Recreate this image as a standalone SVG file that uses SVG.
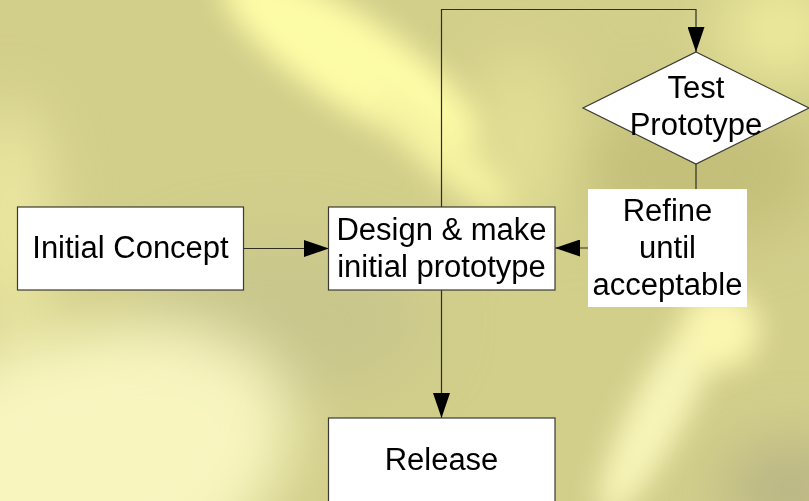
<svg xmlns="http://www.w3.org/2000/svg" width="809" height="501" viewBox="0 0 809 501">
  <style>
    .box { fill: #ffffff; stroke: #3a3a33; stroke-width: 1.2; }
    .plain { fill: #ffffff; stroke: none; }
    .lbl { font-family: "Liberation Sans", Arial, sans-serif; font-size: 31px; fill: #000000; text-anchor: middle; }
    .wire { fill: none; stroke: #2e2e24; stroke-width: 1.2; }
  </style>
  <defs>
    <marker id="arrow" markerUnits="userSpaceOnUse" markerWidth="25" markerHeight="17" refX="25" refY="8.5" orient="auto">
      <path d="M0,0 L25,8.5 L0,17 Z" fill="#000000"/>
    </marker>
    <filter id="soft" x="-50%" y="-50%" width="200%" height="200%">
      <feGaussianBlur stdDeviation="30"/>
    </filter>
    <filter id="softer" x="-50%" y="-50%" width="200%" height="200%">
      <feGaussianBlur stdDeviation="14"/>
    </filter>
  </defs>

  <!-- textured yellow backdrop -->
  <g id="backdrop">
    <rect x="0" y="0" width="809" height="501" fill="#d2cf8b"/>
    <g filter="url(#soft)">
      <ellipse cx="280" cy="320" rx="150" ry="80" fill="#c9c68c"/>
      <ellipse cx="700" cy="170" rx="120" ry="70" fill="#c3bf79"/>
      <ellipse cx="790" cy="490" rx="70" ry="50" fill="#bab585"/>
      <ellipse cx="60" cy="480" rx="240" ry="140" fill="#f8f5bf" transform="rotate(-20 60 480)"/>
      <ellipse cx="10" cy="220" rx="40" ry="120" fill="#ece8a3"/>
      <ellipse cx="780" cy="30" rx="60" ry="50" fill="#eeeb9c"/>
      <ellipse cx="520" cy="140" rx="50" ry="90" fill="#e2de94"/>
    </g>
    <g filter="url(#softer)">
      <ellipse cx="350" cy="60" rx="150" ry="45" fill="#fdfca6" transform="rotate(33 350 60)"/>
      <ellipse cx="440" cy="150" rx="90" ry="22" fill="#f6f3a2" transform="rotate(40 440 150)"/>
      <ellipse cx="660" cy="410" rx="28" ry="120" fill="#f7f4b8" transform="rotate(28 660 410)"/>
      <ellipse cx="720" cy="330" rx="40" ry="40" fill="#faf6b0"/>
    </g>
  </g>

  <g id="connectors">
    <line class="wire" x1="243" y1="248.5" x2="329" y2="248.5" marker-end="url(#arrow)"/>
    <line class="wire" x1="441.5" y1="290" x2="441.5" y2="418" marker-end="url(#arrow)"/>
    <path class="wire" d="M441.5,207 V9.5 H696 V52" marker-end="url(#arrow)"/>
    <line class="wire" x1="696" y1="164" x2="696" y2="189"/>
    <line class="wire" x1="588" y1="248" x2="555" y2="248" marker-end="url(#arrow)"/>
  </g>

  <g id="initial-concept">
    <rect class="box" x="17.5" y="207" width="226" height="83"/>
    <text class="lbl" x="130.5" y="258">Initial Concept</text>
  </g>

  <g id="design-prototype">
    <rect class="box" x="328.5" y="207" width="226.5" height="83"/>
    <text class="lbl" x="441.5" y="239.5">Design &amp; make</text>
    <text class="lbl" x="441.5" y="277">initial prototype</text>
  </g>

  <g id="test-prototype">
    <polygon class="box" points="696,52 809,108 696,164 583,108"/>
    <text class="lbl" x="696" y="98">Test</text>
    <text class="lbl" x="696" y="135">Prototype</text>
  </g>

  <g id="refine">
    <rect class="plain" x="588" y="189" width="159" height="118"/>
    <text class="lbl" x="667.5" y="220.5">Refine</text>
    <text class="lbl" x="667.5" y="258">until</text>
    <text class="lbl" x="667.5" y="295">acceptable</text>
  </g>

  <g id="release">
    <rect class="box" x="328.5" y="418" width="226.5" height="100"/>
    <text class="lbl" x="441.5" y="470">Release</text>
  </g>
</svg>
